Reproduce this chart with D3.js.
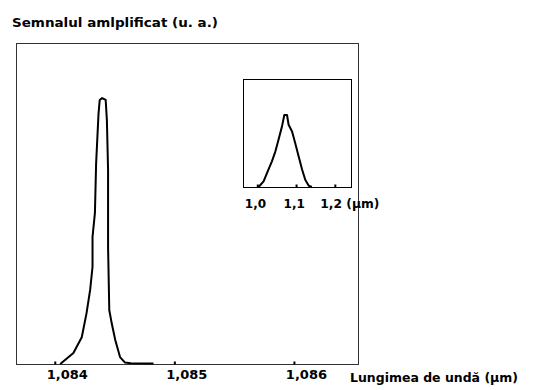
<!DOCTYPE html>
<html>
<head>
<meta charset="utf-8">
<script src="https://cdn.jsdelivr.net/npm/d3@7"></script>
<style>
  body { margin: 0; background: #fff; }
  text { font-family: "DejaVu Sans", sans-serif; font-weight: bold; fill: #000; }
</style>
</head>
<body>
<div id="chart"></div>
<script>
// main spectrum (wavelength in µm, signal in a.u.)
const mainWave = [1.08405, 1.08416, 1.08423, 1.08427, 1.08430, 1.08432, 1.08432, 1.08434, 1.08435,
  1.08437, 1.08438, 1.08440, 1.08443, 1.08444, 1.08445, 1.08445, 1.08446, 1.08448, 1.08451,
  1.08455, 1.08459, 1.08464, 1.08483];
const mainSignal = [0, 0.041, 0.10, 0.19, 0.277, 0.363, 0.475, 0.565, 0.75,
  0.935, 0.987, 0.994, 0.987, 0.912, 0.725, 0.437, 0.202, 0.153, 0.09,
  0.026, 0.006, 0.003, 0.002];
const mainTicks = [1.084, 1.085, 1.086];

// inset spectrum
const insetWave = [1.0046, 1.0175, 1.030, 1.039, 1.048, 1.056, 1.065, 1.071, 1.078,
  1.082, 1.091, 1.099, 1.108, 1.117, 1.125, 1.134, 1.142];
const insetSignal = [0, 0.078, 0.24, 0.356, 0.495, 0.657, 0.842, 1.0, 1.0,
  0.865, 0.77, 0.61, 0.425, 0.24, 0.1, 0.018, 0];
const insetTicks = [1.0, 1.1, 1.2];

const width = 555, height = 390;
const comma = f => d => d3.format(f)(d).replace(".", ",");

const svg = d3.select("#chart").append("svg")
    .attr("width", width)
    .attr("height", height);

// main plot
const x = d3.scaleLinear().domain([1.08368, 1.08654]).range([16, 358]);
const y = d3.scaleLinear().domain([0, 1.2]).range([364, 43]);

svg.append("rect")
    .attr("x", x.range()[0] + 0.5).attr("y", y.range()[1] + 0.5)
    .attr("width", x.range()[1] - x.range()[0]).attr("height", y.range()[0] - y.range()[1])
    .attr("fill", "none").attr("stroke", "#333");

const xAxis = svg.append("g")
    .attr("transform", `translate(0.5,${y.range()[0] + 0.5})`)
    .call(d3.axisBottom(x).tickValues(mainTicks).tickSize(-3).tickPadding(5).tickFormat(comma(".3f")));
xAxis.select(".domain").remove();
xAxis.selectAll("line").attr("stroke", "#000").attr("stroke-width", 2);
xAxis.selectAll("text").attr("font-size", 13).attr("font-family", null).attr("dx", 12);

const line = d3.line().x((d, i) => x(mainWave[i])).y(d => y(d));
svg.append("path")
    .attr("d", line(mainSignal))
    .attr("fill", "none").attr("stroke", "#000").attr("stroke-width", 2)
    .attr("stroke-linejoin", "round");

svg.append("text").attr("x", 12).attr("y", 27).attr("font-size", 12)
    .attr("textLength", 206).attr("lengthAdjust", "spacingAndGlyphs")
    .text("Semnalul amlplificat (u. a.)");
svg.append("text").attr("x", 350).attr("y", 382).attr("font-size", 13)
    .attr("textLength", 168).attr("lengthAdjust", "spacingAndGlyphs")
    .text("Lungimea de undă (µm)");

// inset
const xi = d3.scaleLinear().domain([0.9644, 1.243]).range([243, 351]);
const yi = d3.scaleLinear().domain([0, 1.5]).range([187, 79]);

svg.append("rect")
    .attr("x", xi.range()[0] + 0.5).attr("y", yi.range()[1] + 0.5)
    .attr("width", xi.range()[1] - xi.range()[0]).attr("height", yi.range()[0] - yi.range()[1])
    .attr("fill", "none").attr("stroke", "#000");

const xiAxis = svg.append("g")
    .attr("transform", `translate(0.5,${yi.range()[0] + 0.5})`)
    .call(d3.axisBottom(xi).tickValues(insetTicks).tickSize(-3).tickPadding(12).tickFormat(comma(".1f")));
xiAxis.select(".domain").remove();
xiAxis.selectAll("line").attr("stroke", "#000").attr("stroke-width", 2);
xiAxis.selectAll("text").attr("font-size", 12).attr("font-family", null)
    .attr("text-anchor", "start").attr("dx", -13)
    .text((d, i) => comma(".1f")(d) + (i === insetTicks.length - 1 ? " (µm)" : ""));
xiAxis.selectAll("text").filter((d, i) => i === insetTicks.length - 1)
    .attr("dx", -15).attr("textLength", 59).attr("lengthAdjust", "spacingAndGlyphs");

const iline = d3.line().x((d, i) => xi(insetWave[i])).y(d => yi(d));
svg.append("path")
    .attr("d", iline(insetSignal))
    .attr("fill", "none").attr("stroke", "#000").attr("stroke-width", 2)
    .attr("stroke-linejoin", "round");
</script>
</body>
</html>
